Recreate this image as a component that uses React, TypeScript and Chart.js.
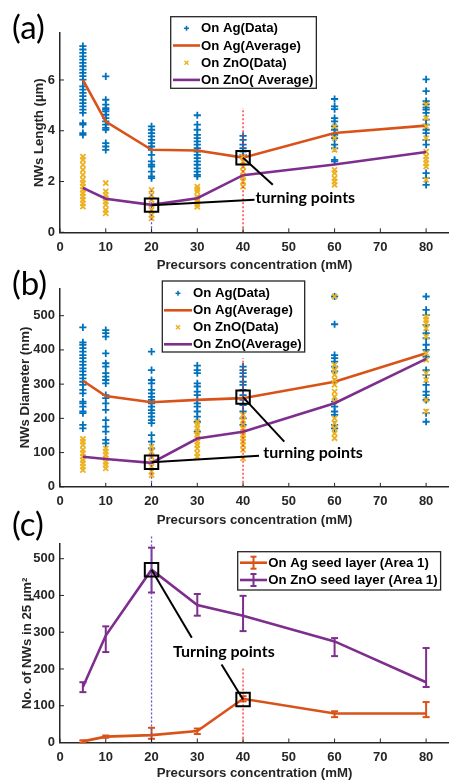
import React, { useEffect, useRef } from 'react';
import { Chart, registerables } from 'chart.js';

Chart.register(...registerables);

// ---------------- shared ----------------
const concentrations = [5, 10, 20, 30, 40, 60, 80];
const xTickValues = [0, 10, 20, 30, 40, 50, 60, 70, 80];
const xAxisMax = 85;
const xAxisTitle = 'Precursors concentration (mM)';
const guideXs = [20, 40];

// ---------------- (a) NW length (µm) ----------------
const lengthTicks = [0, 2, 4, 6];
const lengthAgData = [
  [7.33, 7.2, 7.07, 6.93, 6.8, 6.67, 6.54, 6.41, 6.28, 6.15, 6.01, 5.75, 5.62, 5.49, 5.36, 5.22, 5.09, 4.96, 4.83, 4.7, 4.3, 4.24, 3.91, 3.84],
  [6.14, 5.22, 5.03, 4.89, 4.83, 4.76, 4.63, 4.5, 4.37, 4.24, 4.11, 4.04, 3.51, 3.38, 3.25],
  [4.17, 4.04, 3.91, 3.78, 3.64, 3.51, 3.38, 3.25, 3.05, 2.79, 2.66, 2.59, 2.39, 2.2, 2.13],
  [4.61, 4.24, 4.04, 3.84, 3.71, 3.58, 3.45, 3.31, 3.18, 3.05, 2.92, 2.79, 2.66, 2.52, 2.39, 2.26, 2.2],
  [3.8, 3.64, 3.45, 3.31, 3.18, 3.05],
  [5.25, 4.96, 4.85, 4.5, 4.37, 4.17, 4.04, 3.84, 3.71, 3.45, 3.31, 2.85, 2.79],
  [6.02, 5.56, 5.17, 5.04, 4.91, 4.83, 4.7, 4.44, 4.24, 4.04, 3.91, 3.64, 3.45, 2.33, 2.13, 1.87],
];
const lengthZnOData = [
  [2.98, 2.85, 2.66, 2.46, 2.26, 2.07, 1.94, 1.8, 1.67, 1.54, 1.41, 1.28, 1.14, 1.01],
  [1.94, 1.61, 1.47, 1.34, 1.21, 1.08, 0.88, 0.75],
  [1.67, 1.47, 1.28, 1.08, 0.88, 0.68, 0.55],
  [1.8, 1.7, 1.6, 1.4, 1.3, 1.2, 1.1, 1.0],
  [2.99, 2.79, 2.59, 2.39, 2.2, 2.0, 1.8],
  [4.17, 3.71, 3.25, 2.46, 2.33, 2.13, 2.0, 1.87],
  [5.04, 4.5, 4.17, 3.71, 3.18, 2.99, 2.85, 2.72, 2.59, 2.07],
];
const lengthAgAvg = [6.0, 4.36, 3.25, 3.22, 2.94, 3.91, 4.2];
const lengthZnOAvg = [1.75, 1.32, 1.08, 1.34, 2.25, 2.67, 3.16];
const lengthGuideTops = [1.65, 4.9];
const lengthTurning = [[20, 1.07], [40, 2.94]];
const lengthCalloutEnds = [[42.5, 1.28], [46.5, 1.87]];
const lengthCalloutAt = [53.6, 1.37];

// ---------------- (b) NW diameter (nm) ----------------
const diameterTicks = [0, 100, 200, 300, 400, 500];
const diameterAgData = [
  [466, 422, 415, 405, 395, 385, 376, 366, 356, 346, 337, 327, 317, 307, 298, 283, 273, 249, 244, 234, 220, 215, 181, 171],
  [458, 449, 439, 390, 361, 351, 332, 322, 312, 302, 268, 259, 244, 225, 195, 176, 161, 137, 127],
  [395, 341, 312, 302, 283, 273, 263, 254, 244, 234, 224, 215, 205, 195, 186, 151, 132, 112],
  [354, 341, 332, 302, 293, 278, 268, 254, 244, 234, 220, 205, 190, 161],
  [351, 341, 332, 322, 307, 298, 283, 268, 254, 239, 220, 200, 181],
  [556, 475, 385, 376, 366, 351, 337, 307, 249, 234, 220, 210, 181, 171],
  [556, 517, 502, 473, 449, 434, 415, 400, 380, 341, 327, 298, 278, 268, 254, 215, 190],
];
const diameterZnOData = [
  [140, 132, 122, 108, 98, 88, 78, 69, 59, 49],
  [112, 103, 93, 83, 73, 64, 54],
  [117, 103, 88, 73, 59, 44, 34],
  [190, 181, 171, 161, 151, 142, 132, 122, 112, 98, 88],
  [210, 195, 181, 171, 161, 151, 142, 132, 122, 108, 83],
  [556, 356, 341, 327, 312, 298, 278, 263, 249, 200, 186, 171, 156, 142],
  [497, 488, 478, 463, 439, 390, 371, 332, 312, 254, 220],
];
const diameterAgAvg = [310, 265, 247, 254, 259, 307, 390];
const diameterZnOAvg = [88, 81, 70, 141, 161, 244, 374];
const diameterGuideTops = [117, 376];
const diameterTurning = [[20, 72], [40, 262]];
const diameterCalloutEnds = [[43.5, 91], [49, 132]];
const diameterCalloutAt = [55.3, 98];

// ---------------- (c) NW count ----------------
const countTicks = [0, 100, 200, 300, 400, 500];
const countAg = [3, 16, 20, 31, 119, 79, 79];
const countAgLow = [0, 13, 10, 23, 112, 69, 69];
const countAgHigh = [6, 19, 40, 38, 126, 85, 110];
const countZnO = [151, 291, 470, 374, 345, 275, 164];
const countZnOLow = [137, 246, 408, 345, 303, 235, 151];
const countZnOHigh = [164, 316, 530, 404, 399, 284, 257];
const countGuideTops = [566, 203];
const countTurning = [[20, 470], [40, 117]];
const countCalloutEnds = [[28.8, 285], [35.3, 212]];
const countCalloutAt = [35.8, 247];

// ---------------- styles ----------------
const FONT = "'Liberation Sans', Arial, sans-serif";
const NOTE_FONT = "Lato, 'Open Sans', sans-serif";
const BLUE = '#0072BD';
const ORANGE = '#D95319';
const YELLOW = '#EDB120';
const PURPLE = '#7E2F8E';
const AXIS = '#262626';
const GUIDE_COLORS = ['#6a4fc8', '#ff2a2a'];

const pts = (groups: number[][]) =>
  groups.flatMap((g, i) => g.map((v) => ({ x: concentrations[i], y: v })));
const series = (vals: number[]) => vals.map((v, i) => ({ x: concentrations[i], y: v }));

type LegendItem = { kind: 'plus' | 'xmark' | 'line' | 'err'; color: string; label: string };
type PanelSpec = {
  key: string;
  top: number;
  height: number;
  chartTop: number;
  chartBottom: number;
  yMax: number;
  yTicks: number[];
  yTitle: string;
  yTitleOffset: number;
  datasets: any[];
  errorBars: { color: string; low: number[]; high: number[] }[];
  legend: {
    left: number; top: number; height: number; rowOffset: number; rowH: number;
    sampleX0: number; sampleX1: number; textX: number; items: LegendItem[];
  };
  callout: { text: string; at: number[] };
};

function commonDatasets(guideTops: number[], turning: number[][], ends: number[][]) {
  const guides = guideXs.map((gx, i) => ({
    data: [{ x: gx, y: 0 }, { x: gx, y: guideTops[i] }],
    showLine: true,
    borderColor: GUIDE_COLORS[i],
    borderWidth: 1.3,
    borderDash: [2, 2],
    pointRadius: 0,
    clip: false,
    order: 6,
  }));
  const connectors = turning.map((tp, i) => ({
    data: [{ x: tp[0], y: tp[1] }, { x: ends[i][0], y: ends[i][1] }],
    showLine: true,
    borderColor: '#000',
    borderWidth: 2,
    pointRadius: 0,
    order: 5,
  }));
  const squares = {
    data: turning.map((tp) => ({ x: tp[0], y: tp[1] })),
    showLine: false,
    pointStyle: 'rect',
    pointRadius: 9.5,
    borderColor: '#000',
    borderWidth: 2,
    backgroundColor: 'rgba(0,0,0,0)',
    order: 4,
  };
  return [...guides, ...connectors, squares];
}

function scatterSets(ag: number[][], agAvg: number[], zno: number[][], znoAvg: number[]) {
  return [
    { data: pts(ag), showLine: false, pointStyle: 'cross', pointRadius: 3.6, borderColor: BLUE, borderWidth: 1.8, order: 10 },
    { data: series(agAvg), showLine: true, borderColor: ORANGE, borderWidth: 2.6, pointRadius: 0, order: 9 },
    { data: pts(zno), showLine: false, pointStyle: 'crossRot', pointRadius: 3.6, borderColor: YELLOW, borderWidth: 1.8, order: 8 },
    { data: series(znoAvg), showLine: true, borderColor: PURPLE, borderWidth: 2.6, pointRadius: 0, order: 7 },
  ];
}

const panels: PanelSpec[] = [
  {
    key: 'a',
    top: 0,
    height: 273,
    chartTop: 33,
    chartBottom: 232.3,
    yMax: 7.85,
    yTicks: lengthTicks,
    yTitle: 'NWs Length (µm)',
    yTitleOffset: 31,
    datasets: [
      ...scatterSets(lengthAgData, lengthAgAvg, lengthZnOData, lengthZnOAvg),
      ...commonDatasets(lengthGuideTops, lengthTurning, lengthCalloutEnds),
    ],
    errorBars: [],
    legend: {
      left: 170.7, top: 16.7, height: 71.6, rowOffset: 11.6, rowH: 17.2,
      sampleX0: 173, sampleX1: 200, textX: 201,
      items: [
        { kind: 'plus', color: BLUE, label: 'On Ag(Data)' },
        { kind: 'line', color: ORANGE, label: 'On Ag(Average)' },
        { kind: 'xmark', color: YELLOW, label: 'On ZnO(Data)' },
        { kind: 'line', color: PURPLE, label: 'On ZnO( Average)' },
      ],
    },
    callout: { text: 'turning points', at: lengthCalloutAt },
  },
  {
    key: 'b',
    top: 255,
    height: 273,
    chartTop: 33.3,
    chartBottom: 231.8,
    yMax: 580,
    yTicks: diameterTicks,
    yTitle: 'NWs Diameter (nm)',
    yTitleOffset: 17.7,
    datasets: [
      ...scatterSets(diameterAgData, diameterAgAvg, diameterZnOData, diameterZnOAvg),
      ...commonDatasets(diameterGuideTops, diameterTurning, diameterCalloutEnds),
    ],
    errorBars: [],
    legend: {
      left: 162.3, top: 26, height: 71, rowOffset: 12.3, rowH: 17,
      sampleX0: 164, sampleX1: 192, textX: 193,
      items: [
        { kind: 'plus', color: BLUE, label: 'On Ag(Data)' },
        { kind: 'line', color: ORANGE, label: 'On Ag(Average)' },
        { kind: 'xmark', color: YELLOW, label: 'On ZnO(Data)' },
        { kind: 'line', color: PURPLE, label: 'On ZnO(Average)' },
      ],
    },
    callout: { text: 'turning points', at: diameterCalloutAt },
  },
  {
    key: 'c',
    top: 509,
    height: 272,
    chartTop: 35,
    chartBottom: 233.5,
    yMax: 540,
    yTicks: countTicks,
    yTitle: 'No. of NWs in 25 µm²',
    yTitleOffset: 19,
    datasets: [
      { data: series(countAg), showLine: true, borderColor: ORANGE, borderWidth: 2.6, pointRadius: 0, order: 9 },
      { data: series(countZnO), showLine: true, borderColor: PURPLE, borderWidth: 2.6, pointRadius: 0, order: 7 },
      ...commonDatasets(countGuideTops, countTurning, countCalloutEnds),
    ],
    errorBars: [
      { color: ORANGE, low: countAgLow, high: countAgHigh },
      { color: PURPLE, low: countZnOLow, high: countZnOHigh },
    ],
    legend: {
      left: 237.7, top: 42.7, height: 38.3, rowOffset: 11, rowH: 17.3,
      sampleX0: 240, sampleX1: 267, textX: 268.3,
      items: [
        { kind: 'err', color: ORANGE, label: 'On Ag seed layer (Area 1)' },
        { kind: 'err', color: PURPLE, label: 'On ZnO seed layer (Area 1)' },
      ],
    },
    callout: { text: 'Turning points', at: countCalloutAt },
  },
];

function line(ctx: CanvasRenderingContext2D, x0: number, y0: number, x1: number, y1: number) {
  ctx.beginPath();
  ctx.moveTo(x0, y0);
  ctx.lineTo(x1, y1);
  ctx.stroke();
}

function makePlugins(spec: PanelSpec) {
  const errorBarPlugin = {
    id: 'errorBars' + spec.key,
    beforeDatasetsDraw(chart: any) {
      const { ctx, scales } = chart;
      const x = scales.x;
      const y = scales.y;
      ctx.save();
      spec.errorBars.forEach((eb) => {
        ctx.strokeStyle = eb.color;
        ctx.lineWidth = 2;
        concentrations.forEach((c, i) => {
          const px = x.getPixelForValue(c);
          const lo = y.getPixelForValue(eb.low[i]);
          const hi = y.getPixelForValue(eb.high[i]);
          line(ctx, px, lo, px, hi);
          line(ctx, px - 3.5, lo, px + 3.5, lo);
          line(ctx, px - 3.5, hi, px + 3.5, hi);
        });
      });
      ctx.restore();
    },
  };
  const decorPlugin = {
    id: 'decor' + spec.key,
    afterDatasetsDraw(chart: any) {
      const { ctx, chartArea, scales } = chart;
      const x = scales.x;
      const y = scales.y;
      ctx.save();
      ctx.strokeStyle = AXIS;
      ctx.lineWidth = 1;
      x.ticks.forEach((t: any) => {
        const px = x.getPixelForValue(t.value);
        line(ctx, px, chartArea.bottom, px, chartArea.bottom - 4);
      });
      y.ticks.forEach((t: any) => {
        const py = y.getPixelForValue(t.value);
        line(ctx, chartArea.left, py, chartArea.left + 4, py);
      });
      ctx.font = `bold 16px ${NOTE_FONT}`;
      ctx.fillStyle = '#000';
      ctx.textAlign = 'center';
      ctx.textBaseline = 'middle';
      ctx.fillText(spec.callout.text, x.getPixelForValue(spec.callout.at[0]), y.getPixelForValue(spec.callout.at[1]));
      ctx.restore();
    },
    afterDraw(chart: any) {
      const { ctx } = chart;
      const lg = spec.legend;
      ctx.save();
      ctx.font = `bold 13.2px ${FONT}`;
      const textW = Math.max(...lg.items.map((it) => ctx.measureText(it.label).width));
      const width = lg.textX + textW + 3 - lg.left;
      ctx.fillStyle = '#fff';
      ctx.fillRect(lg.left, lg.top, width, lg.height);
      ctx.strokeStyle = AXIS;
      ctx.lineWidth = 1.3;
      ctx.strokeRect(lg.left, lg.top, width, lg.height);
      lg.items.forEach((it, i) => {
        const cy = lg.top + lg.rowOffset + i * lg.rowH;
        const mx = (lg.sampleX0 + lg.sampleX1) / 2;
        ctx.strokeStyle = it.color;
        if (it.kind === 'line' || it.kind === 'err') {
          ctx.lineWidth = 2.6;
          line(ctx, lg.sampleX0, cy, lg.sampleX1, cy);
        }
        if (it.kind === 'err') {
          ctx.lineWidth = 2;
          line(ctx, mx, cy - 6, mx, cy + 6);
          line(ctx, mx - 3, cy - 6, mx + 3, cy - 6);
          line(ctx, mx - 3, cy + 6, mx + 3, cy + 6);
        }
        if (it.kind === 'plus') {
          ctx.lineWidth = 1.5;
          line(ctx, mx - 2.5, cy, mx + 2.5, cy);
          line(ctx, mx, cy - 2.5, mx, cy + 2.5);
        }
        if (it.kind === 'xmark') {
          ctx.lineWidth = 1.5;
          line(ctx, mx - 2, cy - 2, mx + 2, cy + 2);
          line(ctx, mx - 2, cy + 2, mx + 2, cy - 2);
        }
        ctx.fillStyle = '#000';
        ctx.textAlign = 'left';
        ctx.textBaseline = 'middle';
        ctx.fillText(it.label, lg.textX, cy + 0.5);
      });
      ctx.restore();
    },
  };
  return [errorBarPlugin, decorPlugin];
}

function buildConfig(spec: PanelSpec): any {
  const tickFont = { family: FONT, size: 13, weight: 'bold' };
  const titleFont = { family: FONT, size: 13.2, weight: 'bold' };
  return {
    type: 'scatter',
    data: { datasets: spec.datasets },
    plugins: makePlugins(spec),
    options: {
      responsive: false,
      animation: false,
      events: [],
      layout: { autoPadding: false, padding: { top: spec.chartTop, left: 0, right: 0, bottom: 0 } },
      plugins: { legend: { display: false }, tooltip: { enabled: false } },
      scales: {
        x: {
          type: 'linear',
          min: 0,
          max: xAxisMax,
          afterBuildTicks: (ax: any) => {
            ax.ticks = xTickValues.map((v) => ({ value: v }));
          },
          afterFit: (ax: any) => {
            ax.height = spec.height - spec.chartBottom;
            ax.paddingLeft = 0;
            ax.paddingRight = 0;
          },
          grid: { display: false, drawTicks: false },
          border: { display: true, color: AXIS, width: 1.5 },
          ticks: { color: AXIS, font: tickFont, padding: 7, maxRotation: 0, autoSkip: false },
          title: { display: true, text: xAxisTitle, color: AXIS, font: titleFont, padding: { top: 0, bottom: 0 } },
        },
        y: {
          type: 'linear',
          min: 0,
          max: spec.yMax,
          afterBuildTicks: (ax: any) => {
            ax.ticks = spec.yTicks.map((v) => ({ value: v }));
          },
          afterFit: (ax: any) => {
            ax.width = 60;
          },
          grid: { display: false, drawTicks: false },
          border: { display: true, color: AXIS, width: 1.5 },
          ticks: { color: AXIS, font: tickFont, padding: 5, autoSkip: false },
          title: { display: true, text: spec.yTitle, color: AXIS, font: titleFont, padding: { top: spec.yTitleOffset, bottom: 0 } },
        },
      },
    },
  };
}

function Panel({ spec }: { spec: PanelSpec }) {
  const ref = useRef<HTMLCanvasElement>(null);
  useEffect(() => {
    if (!ref.current) return;
    const chart = new Chart(ref.current, buildConfig(spec));
    return () => chart.destroy();
  }, [spec]);
  return (
    <canvas
      ref={ref}
      width={449}
      height={spec.height}
      style={{ position: 'absolute', left: 0, top: spec.top, width: 449, height: spec.height }}
    />
  );
}

const panelLabels = [
  { text: '(a)', top: 10 },
  { text: '(b)', top: 266 },
  { text: '(c)', top: 507 },
];

export default function App() {
  return (
    <div
      style={{
        position: 'absolute',
        left: 0,
        top: 0,
        width: 449,
        height: 781,
        background: '#fff',
        overflow: 'hidden',
        fontFamily: NOTE_FONT,
      }}
    >
      {panels.map((p) => (
        <Panel key={p.key} spec={p} />
      ))}
      {panelLabels.map((l) => (
        <div
          key={l.text}
          style={{ position: 'absolute', left: 12, top: l.top, fontSize: 33, lineHeight: '33px', color: '#000' }}
        >
          {l.text}
        </div>
      ))}
    </div>
  );
}
